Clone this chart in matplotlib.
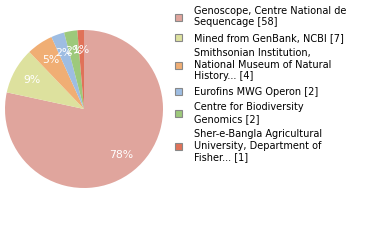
import matplotlib
matplotlib.use("Agg")
import matplotlib.pyplot as plt
from matplotlib.patches import Patch

labels = ["Genoscope, Centre National de\nSequencage [58]",
          "Mined from GenBank, NCBI [7]",
          "Smithsonian Institution,\nNational Museum of Natural\nHistory... [4]",
          "Eurofins MWG Operon [2]",
          "Centre for Biodiversity\nGenomics [2]",
          "Sher-e-Bangla Agricultural\nUniversity, Department of\nFisher... [1]"]
counts = [58, 7, 4, 2, 2, 1]
colors = ["#e0a59d", "#dde19e", "#f0ae74", "#9ebde2", "#9dc97b", "#e07259"]

fig = plt.figure(figsize=(3.8, 2.4), dpi=100)
ax = fig.add_axes([5/380, 1 - 188/240, 158/380, 158/240])
ax.pie(counts, colors=colors, startangle=90, counterclock=False,
       autopct=lambda p: "%d%%" % int(p), pctdistance=0.75,
       textprops=dict(color="white", fontsize=7.8))
ax.set_xlim(-1, 1)
ax.set_ylim(-1, 1)
ax.set_aspect("equal")

handles = [Patch(facecolor=c, edgecolor="#888888", linewidth=0.8) for c in colors]
fig.legend(handles, labels, loc="upper left", bbox_to_anchor=(170/380, 1 - 1/240),
           frameon=False, fontsize=7, handlelength=0.75, handleheight=0.75,
           handletextpad=1.2, labelspacing=0.55, borderpad=0)

fig.savefig("out.png", dpi=100)
